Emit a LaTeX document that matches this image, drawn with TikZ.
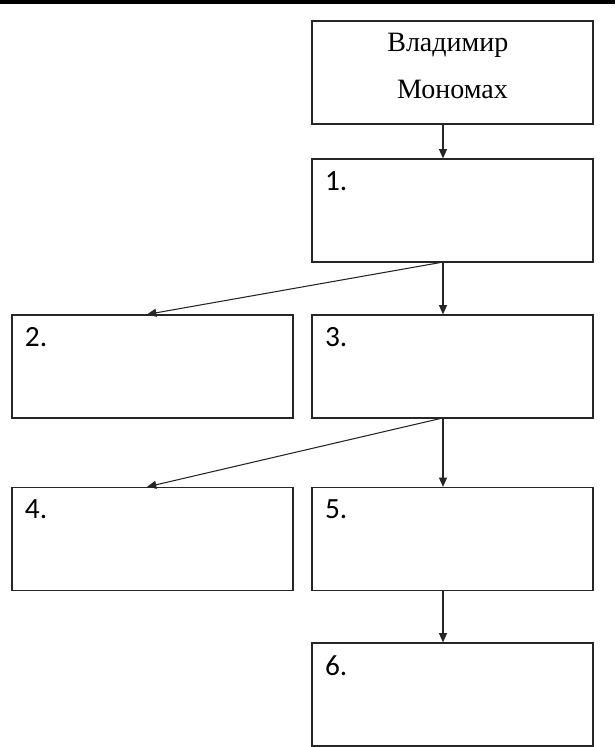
\documentclass[tikz,border=0pt]{standalone}
\usepackage{fontspec}
\setmainfont{Liberation Serif}
\newfontfamily\numfont{Carlito}
\usetikzlibrary{arrows.meta,positioning,calc}

\begin{document}
\begin{tikzpicture}[
    x=0.75pt, y=-0.75pt,
    tree/.style={
        rectangle,
        draw=black!85,
        line width=0.9pt,
        minimum width=210.75pt,
        minimum height=77.25pt,
        inner sep=0pt
    },
    numbox/.style={
        tree,
        label={[anchor=north west, inner sep=0pt, xshift=10pt, yshift=-9.5pt,
                font=\numfont\fontsize{22}{26}\selectfont]north west:#1}
    },
    link/.style={
        -{Triangle[width=6pt,length=7pt]},
        line width=0.8pt,
        black!85
    }
]
    \useasboundingbox (0,0) rectangle (615,747);

    % Rule on top
    \draw[line width=2.6pt] (0,2) -- (615,2);

    % Boxes
    \node[tree, label={[align=center, yshift=5pt, font=\fontsize{21}{35.6}\selectfont]center:
        Владимир\hspace*{7pt}\\Мономах}] (monomakh) at (452.5,72.5) {};
    \node[numbox=1.] (n1) at (452.5,210.5) {};
    \node[numbox=2.] (n2) at (152.5,366.5) {};
    \node[numbox=3.] (n3) at (452.5,366.5) {};
    \node[numbox=4.] (n4) at (152.5,539) {};
    \node[numbox=5.] (n5) at (452.5,539) {};
    \node[numbox=6.] (n6) at (452.5,694.5) {};

    % Arrows
    \coordinate (axis) at (443,0);
    \draw[link] (monomakh.south -| axis) -- (n1.north -| axis);
    \draw[link] (n1.south -| axis) -- (n3.north -| axis);
    \draw[link] (n3.south -| axis) -- (n5.north -| axis);
    \draw[link] (n5.south -| axis) -- (n6.north -| axis);
    \draw[link] ($(n1.south -| axis)+(-3,0)$) -- ($(n2.north)+(-5.5,0)$);
    \draw[link] ($(n3.south -| axis)+(-3,0)$) -- ($(n4.north)+(-5.5,0)$);
\end{tikzpicture}
\end{document}
